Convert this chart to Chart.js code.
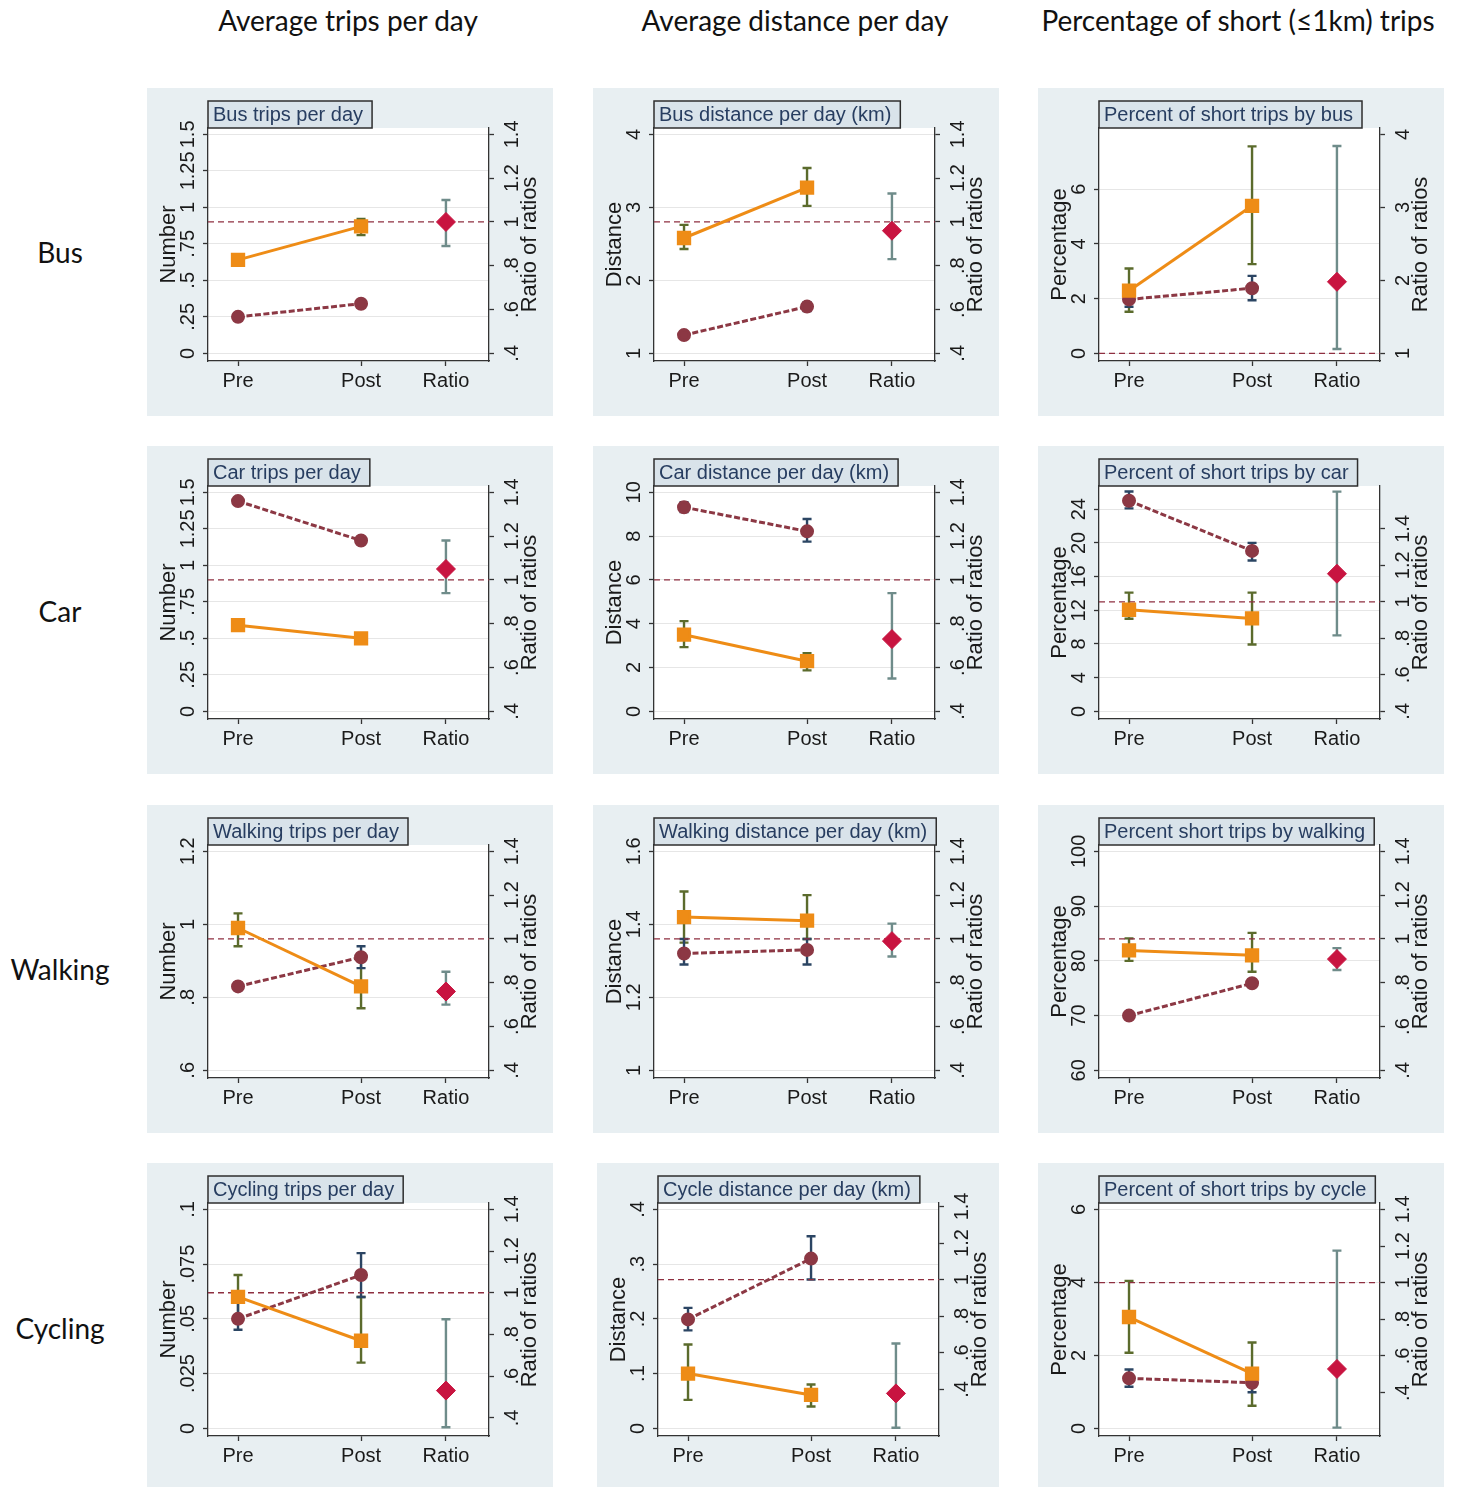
<!DOCTYPE html>
<html lang="en">
<head>
  <meta charset="UTF-8">
  <title>Travel by mode, pre and post</title>
  <script src="https://cdn.jsdelivr.net/npm/chart.js@4"></script>
  <style>
    body { margin: 0; background: #fff; width: 1457px; height: 1487px; position: relative; overflow: hidden; font-family: Lato, 'Open Sans', sans-serif; color: #111; }
    .colhead { position: absolute; top: 2px; width: 460px; text-align: center; font-size: 28px; line-height: 36px; }
    .rowlab { position: absolute; left: 0; width: 120px; text-align: center; font-size: 28px; line-height: 36px; }
    .panel { position: absolute; width: 406px; height: 328px; background: #e8eff2; overflow: hidden; }
    .panel canvas { display: block; }
  </style>
</head>
<body>
  <div id="figure"></div>

  <script>
    // ---- data ----
    const columnHeaders = ['Average trips per day', 'Average distance per day', 'Percentage of short (\u22641km) trips'];
    const rowLabels = ['Bus', 'Car', 'Walking', 'Cycling'];
    const categories = ['Pre', 'Post', 'Ratio'];
    const panelTitles = [
      'Bus trips per day', 'Bus distance per day (km)', 'Percent of short trips by bus',
      'Car trips per day', 'Car distance per day (km)', 'Percent of short trips by car',
      'Walking trips per day', 'Walking distance per day (km)', 'Percent short trips by walking',
      'Cycling trips per day', 'Cycle distance per day (km)', 'Percent of short trips by cycle'
    ];
    const leftTitles = ['Number', 'Distance', 'Percentage'];
    const rightTitle = 'Ratio of ratios';

    const leftRange = [[0, 1.5], [1, 4], [0, 8], [0, 1.5], [0, 10], [0, 26], [0.6, 1.2], [1, 1.6], [60, 100], [0, 0.1], [0, 0.4], [0, 6]];
    const leftTicks = [
      [0, .25, .5, .75, 1, 1.25, 1.5], [1, 2, 3, 4], [0, 2, 4, 6],
      [0, .25, .5, .75, 1, 1.25, 1.5], [0, 2, 4, 6, 8, 10], [0, 4, 8, 12, 16, 20, 24],
      [.6, .8, 1, 1.2], [1, 1.2, 1.4, 1.6], [60, 70, 80, 90, 100],
      [0, .025, .05, .075, .1], [0, .1, .2, .3, .4], [0, 2, 4, 6]
    ];
    const rightRange = [[.4, 1.4], [.4, 1.4], [1, 4], [.4, 1.4], [.4, 1.4], [.4, 1.6], [.4, 1.4], [.4, 1.4], [.4, 1.4], [.35, 1.4], [.187, 1.384], [.205, 1.4]];
    const ratioTicks = [.4, .6, .8, 1, 1.2, 1.4];
    const rightTicks = [ratioTicks, ratioTicks, [1, 2, 3, 4], ratioTicks, ratioTicks, ratioTicks, ratioTicks, ratioTicks, ratioTicks, ratioTicks, ratioTicks, ratioTicks];

    // series A (orange squares, solid) and series B (maroon circles, dashed)
    const seriesAPre = [0.64, 2.58, 2.29, 0.59, 3.50, 12.06, 0.99, 1.42, 81.9, 0.060, 0.100, 3.05];
    const seriesAPreCI = [[0.62, 0.66], [2.43, 2.76], [1.52, 3.10], [0.56, 0.62], [2.93, 4.12], [11.0, 14.1], [0.94, 1.03], [1.35, 1.49], [80.0, 84.1], [0.050, 0.070], [0.052, 0.153], [2.07, 4.04]];
    const seriesAPost = [0.87, 3.27, 5.39, 0.50, 2.29, 11.03, 0.83, 1.41, 81.0, 0.040, 0.061, 1.50];
    const seriesAPostCI = [[0.81, 0.92], [3.02, 3.54], [3.26, 7.56], [0.47, 0.53], [1.87, 2.66], [7.94, 14.1], [0.77, 0.90], [1.36, 1.48], [78.0, 85.1], [0.030, 0.060], [0.040, 0.080], [0.62, 2.35]];
    const seriesBPre = [0.25, 1.25, 1.97, 1.44, 9.32, 25.0, 0.83, 1.32, 70.0, 0.050, 0.199, 1.37];
    const seriesBPreCI = [[0.24, 0.26], [1.22, 1.28], [1.70, 2.25], [1.42, 1.46], [9.10, 9.55], [24.1, 26.1], [0.82, 0.84], [1.29, 1.36], [69.4, 70.6], [0.045, 0.058], [0.179, 0.220], [1.14, 1.61]];
    const seriesBPost = [0.34, 1.64, 2.38, 1.17, 8.22, 19.05, 0.91, 1.33, 75.9, 0.070, 0.310, 1.25];
    const seriesBPostCI = [[0.33, 0.35], [1.58, 1.70], [1.94, 2.83], [1.15, 1.19], [7.75, 8.78], [17.9, 20.0], [0.88, 0.94], [1.29, 1.36], [75.3, 76.5], [0.060, 0.080], [0.272, 0.351], [0.99, 1.50]];
    const ratio = [1.00, 0.96, 1.98, 1.05, 0.73, 1.154, 0.76, 0.99, 0.908, 0.531, 0.378, 0.529];
    const ratioCI = [[0.89, 1.10], [0.83, 1.13], [1.06, 3.84], [0.94, 1.18], [0.55, 0.94], [0.816, 1.604], [0.70, 0.85], [0.92, 1.07], [0.858, 0.958], [0.355, 0.873], [0.19, 0.651], [0.209, 1.175]];
    const referenceRatio = 1;

    // ---- layout / style ----
    const X_POS = [1, 2, 2.69];
    const X_MIN = 0.756, X_MAX = 3.04;
    const PAD_BOTTOM = 0.035, PAD_TOP = 0.029;
    const FONT = "'Liberation Sans', Arial, sans-serif";
    const AXIS = '#333';
    const TEXT = '#1a1a1a';
    const ORANGE = '#ee8c16';
    const MAROON = '#8c3844';
    const CRIMSON = '#c81440';
    const OLIVE = '#5b6b2c';
    const NAVY = '#2b4563';
    const GREYTEAL = '#6f8c8a';

    const colX = [147, 593, 1038];
    const rowY = [88, 446, 805, 1163];
    const headCenters = [348, 795, 1238];
    const rowCenters = [252, 611, 969, 1328];

    const fig = document.getElementById('figure');
    columnHeaders.forEach((t, c) => {
      const d = document.createElement('div');
      d.className = 'colhead';
      d.style.left = (headCenters[c] - 230) + 'px';
      d.textContent = t;
      fig.appendChild(d);
    });
    rowLabels.forEach((t, r) => {
      const d = document.createElement('div');
      d.className = 'rowlab';
      d.style.top = (rowCenters[r] - 18) + 'px';
      d.textContent = t;
      fig.appendChild(d);
    });

    function fmt(v) {
      let s = String(+v.toFixed(4));
      if (s.startsWith('0.')) s = s.slice(1);
      return s;
    }

    function padded(r) {
      const span = r[1] - r[0];
      return [r[0] - span * PAD_BOTTOM, r[1] + span * PAD_TOP];
    }

    function vtext(ctx, text, x, y) {
      ctx.save();
      ctx.translate(x, y);
      ctx.rotate(-Math.PI / 2);
      ctx.fillText(text, 0, 0);
      ctx.restore();
    }

    function capBar(ctx, x, yLo, yHi, color) {
      ctx.strokeStyle = color;
      ctx.lineWidth = 2.4;
      ctx.beginPath();
      ctx.moveTo(x, yLo); ctx.lineTo(x, yHi);
      ctx.moveTo(x - 4.5, yLo); ctx.lineTo(x + 4.5, yLo);
      ctx.moveTo(x - 4.5, yHi); ctx.lineTo(x + 4.5, yHi);
      ctx.stroke();
    }

    function makePanel(i) {
      const row = Math.floor(i / 3), col = i % 3;
      const panel = document.createElement('div');
      panel.className = 'panel';
      // the cycle-distance panel sits a little to the right and is a touch narrower
      panel.style.left = (colX[col] + (i === 10 ? 4 : 0)) + 'px';
      if (i === 10) panel.style.width = '402px';
      panel.style.top = rowY[row] + 'px';
      const canvas = document.createElement('canvas');
      canvas.width = 406;
      canvas.height = 328;
      panel.appendChild(canvas);
      fig.appendChild(panel);

      const lr = padded(leftRange[i]);
      const rr = padded(rightRange[i]);

      const decorations = {
        id: 'decorations' + i,
        beforeDraw(chart) {
          const a = chart.chartArea, ctx = chart.ctx;
          ctx.save();
          ctx.fillStyle = '#fff';
          ctx.fillRect(a.left, a.top, a.right - a.left, a.bottom - a.top);
          ctx.restore();
        },
        beforeDatasetsDraw(chart) {
          const ctx = chart.ctx, x = chart.scales.x, y = chart.scales.y, y2 = chart.scales.y2;
          ctx.save();
          capBar(ctx, x.getPixelForValue(X_POS[0]), y.getPixelForValue(seriesAPreCI[i][0]), y.getPixelForValue(seriesAPreCI[i][1]), OLIVE);
          capBar(ctx, x.getPixelForValue(X_POS[1]), y.getPixelForValue(seriesAPostCI[i][0]), y.getPixelForValue(seriesAPostCI[i][1]), OLIVE);
          capBar(ctx, x.getPixelForValue(X_POS[0]), y.getPixelForValue(seriesBPreCI[i][0]), y.getPixelForValue(seriesBPreCI[i][1]), NAVY);
          capBar(ctx, x.getPixelForValue(X_POS[1]), y.getPixelForValue(seriesBPostCI[i][0]), y.getPixelForValue(seriesBPostCI[i][1]), NAVY);
          capBar(ctx, x.getPixelForValue(X_POS[2]), y2.getPixelForValue(ratioCI[i][0]), y2.getPixelForValue(ratioCI[i][1]), GREYTEAL);
          ctx.restore();
        },
        afterDraw(chart) {
          const ctx = chart.ctx, a = chart.chartArea, y = chart.scales.y, y2 = chart.scales.y2;
          ctx.save();
          ctx.fillStyle = TEXT;
          ctx.textAlign = 'center';
          ctx.textBaseline = 'middle';
          ctx.font = '20px ' + FONT;
          y.ticks.forEach(t => vtext(ctx, fmt(t.value), a.left - 19.5, y.getPixelForValue(t.value)));
          y2.ticks.forEach(t => vtext(ctx, fmt(t.value), a.right + 23.5, y2.getPixelForValue(t.value)));
          ctx.font = '22px ' + FONT;
          const midY = (a.top + a.bottom) / 2;
          vtext(ctx, leftTitles[col], a.left - 39, midY);
          vtext(ctx, rightTitle, a.right + 41, midY);

          // title box
          ctx.font = '20px ' + FONT;
          const h = 27, w = ctx.measureText(panelTitles[i]).width + 14;
          const bx = a.left, by = a.top - h;
          ctx.fillStyle = '#d9e3ea';
          ctx.fillRect(bx, by, w, h);
          ctx.strokeStyle = '#2e2e2e';
          ctx.lineWidth = 1.5;
          ctx.strokeRect(bx, by, w, h);
          ctx.fillStyle = '#273d60';
          ctx.textAlign = 'left';
          ctx.fillText(panelTitles[i], bx + 5, by + h / 2 + 1);
          ctx.restore();
        }
      };

      new Chart(canvas.getContext('2d'), {
        type: 'line',
        data: {
          datasets: [
            {
              label: 'Reference',
              data: [{ x: X_MIN, y: referenceRatio }, { x: X_MAX, y: referenceRatio }],
              yAxisID: 'y2',
              borderColor: '#8e2f40',
              borderWidth: 1.3,
              borderDash: [6, 4],
              pointRadius: 0,
              order: 5
            },
            {
              label: 'Series B',
              data: [{ x: X_POS[0], y: seriesBPre[i] }, { x: X_POS[1], y: seriesBPost[i] }],
              yAxisID: 'y',
              borderColor: MAROON,
              borderWidth: 3,
              borderDash: [6, 2.5],
              pointStyle: 'circle',
              pointRadius: 5.5,
              pointBackgroundColor: MAROON,
              pointBorderColor: MAROON,
              order: 2
            },
            {
              label: 'Series A',
              data: [{ x: X_POS[0], y: seriesAPre[i] }, { x: X_POS[1], y: seriesAPost[i] }],
              yAxisID: 'y',
              borderColor: ORANGE,
              borderWidth: 3,
              pointStyle: 'rect',
              pointRadius: 8,
              pointBackgroundColor: ORANGE,
              pointBorderColor: ORANGE,
              order: 1
            },
            {
              label: 'Ratio',
              data: [{ x: X_POS[2], y: ratio[i] }],
              yAxisID: 'y2',
              showLine: false,
              pointStyle: 'rectRot',
              pointRadius: 9.5,
              pointBackgroundColor: CRIMSON,
              pointBorderColor: CRIMSON,
              order: 0
            }
          ]
        },
        options: {
          responsive: false,
          animation: false,
          events: [],
          layout: { padding: { top: 40, left: 0, right: 0, bottom: 0 } },
          plugins: { legend: { display: false }, tooltip: { enabled: false }, title: { display: false } },
          scales: {
            x: {
              type: 'linear',
              min: X_MIN,
              max: X_MAX,
              afterBuildTicks: s => { s.ticks = X_POS.map(v => ({ value: v })); },
              afterFit: s => { s.height = 55; },
              ticks: {
                callback: (v, idx) => categories[idx],
                font: { family: FONT, size: 20 },
                color: TEXT,
                padding: 3,
                autoSkip: false,
                maxRotation: 0
              },
              grid: { drawOnChartArea: false, drawTicks: true, tickLength: 5, tickColor: AXIS, tickWidth: 1.3 },
              border: { color: AXIS, width: 1.3 }
            },
            y: {
              type: 'linear',
              position: 'left',
              min: lr[0],
              max: lr[1],
              afterBuildTicks: s => { s.ticks = leftTicks[i].filter(v => v >= lr[0] && v <= lr[1]).map(v => ({ value: v })); },
              afterFit: s => { s.width = 61; },
              ticks: { display: false },
              grid: { color: '#e6e6e6', lineWidth: 1, drawTicks: true, tickLength: 5, tickColor: AXIS, tickWidth: 1.3 },
              border: { color: AXIS, width: 1.3 }
            },
            y2: {
              type: 'linear',
              position: 'right',
              min: rr[0],
              max: rr[1],
              afterBuildTicks: s => { s.ticks = rightTicks[i].filter(v => v >= rr[0] && v <= rr[1]).map(v => ({ value: v })); },
              afterFit: s => { s.width = 64; },
              ticks: { display: false },
              grid: { drawOnChartArea: false, drawTicks: true, tickLength: 5, tickColor: AXIS, tickWidth: 1.3 },
              border: { color: AXIS, width: 1.3 }
            }
          }
        },
        plugins: [decorations]
      });
    }

    for (let i = 0; i < 12; i++) makePanel(i);
  </script>
</body>
</html>
